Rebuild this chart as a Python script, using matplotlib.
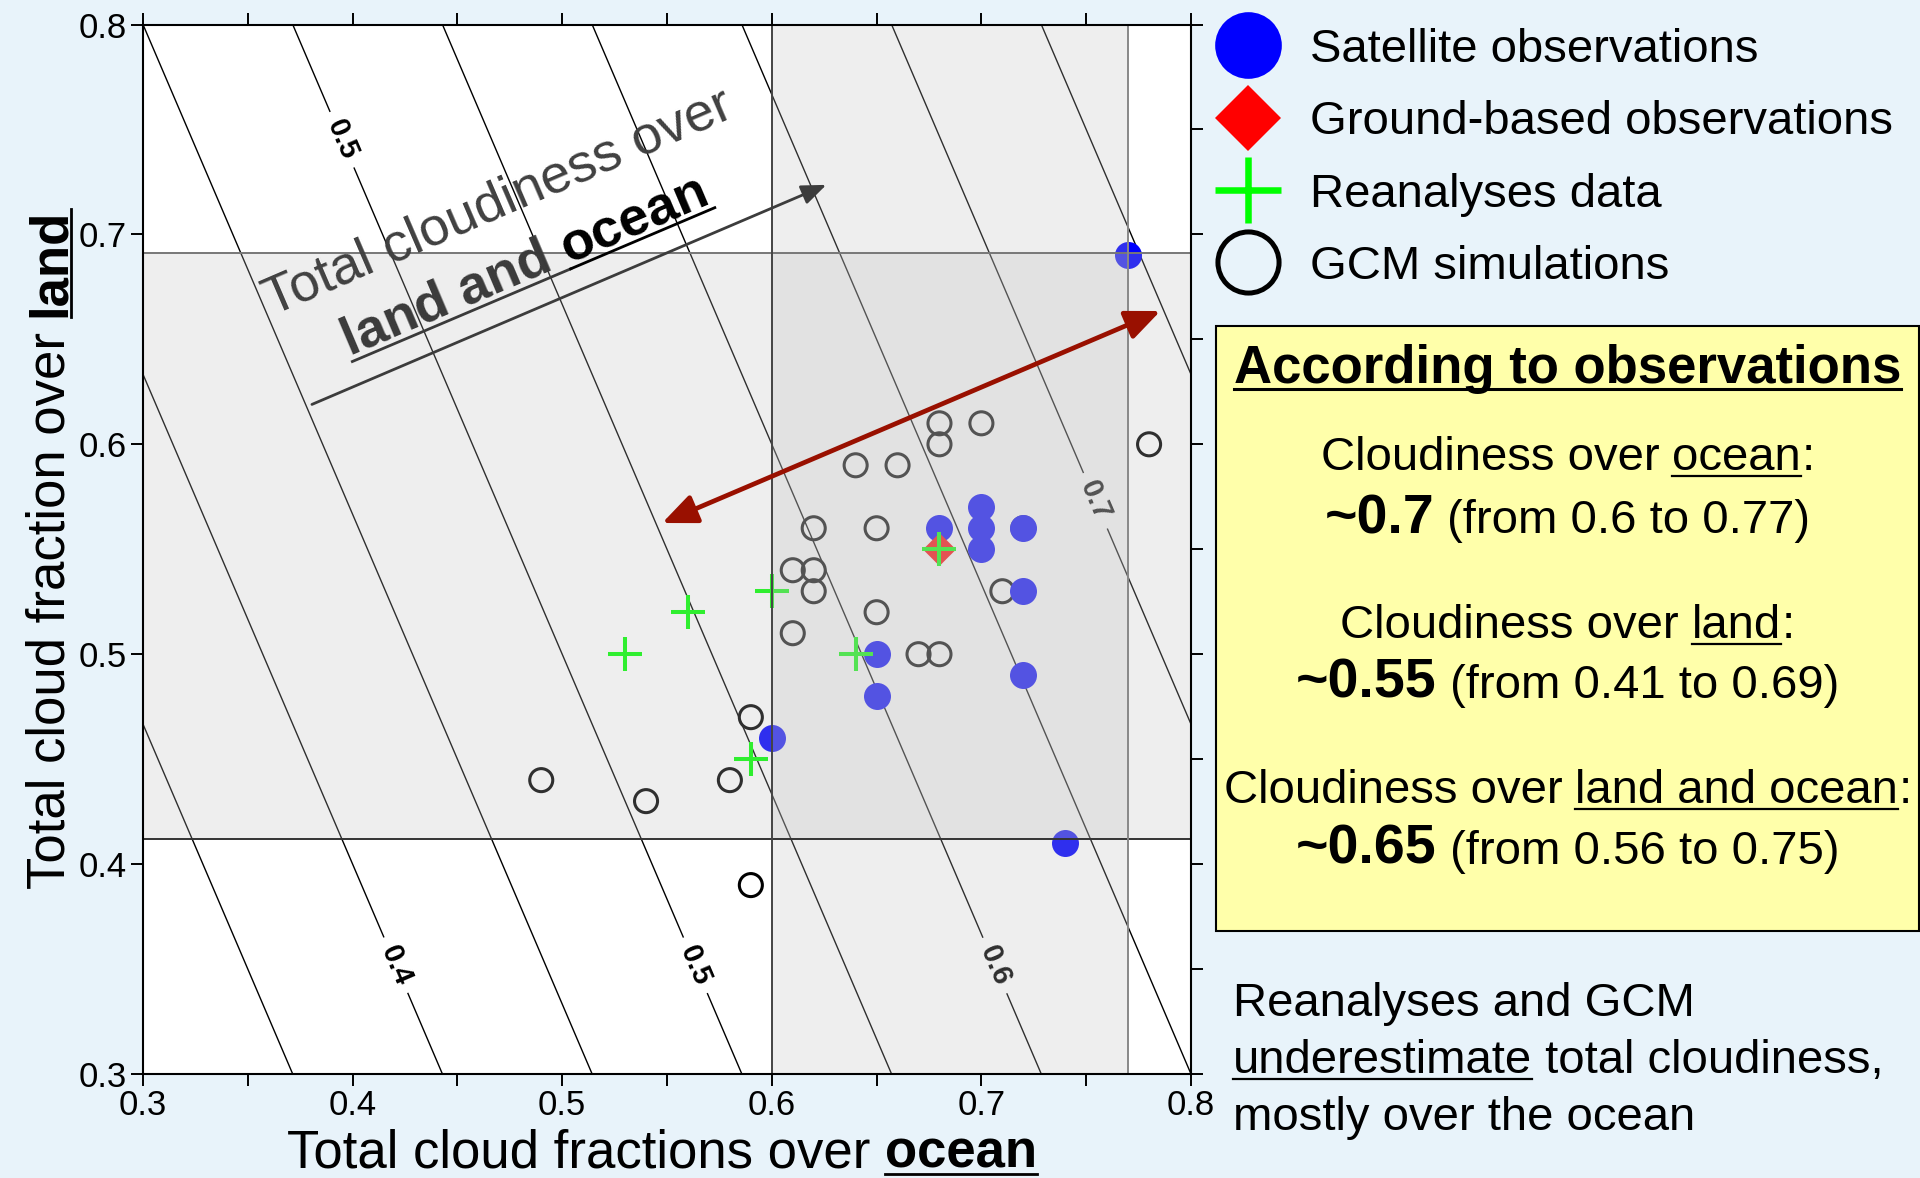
import matplotlib
matplotlib.use('Agg')
import matplotlib.pyplot as plt
import numpy as np
from matplotlib import font_manager
from matplotlib.lines import Line2D
from matplotlib.patches import Rectangle
from matplotlib.transforms import IdentityTransform

# cloud fractions: (ocean, land)
sat_ocean = [0.77, 0.74, 0.60, 0.65, 0.65, 0.68, 0.70, 0.70, 0.70, 0.72, 0.72, 0.72]
sat_land = [0.69, 0.41, 0.46, 0.50, 0.48, 0.56, 0.57, 0.56, 0.55, 0.56, 0.53, 0.49]
ground_ocean = [0.68]
ground_land = [0.55]
rean_ocean = [0.53, 0.56, 0.60, 0.64, 0.59, 0.68]
rean_land = [0.50, 0.52, 0.53, 0.50, 0.45, 0.55]
gcm_ocean = [0.68, 0.70, 0.68, 0.64, 0.66, 0.62, 0.65, 0.72, 0.61, 0.62, 0.62,
             0.71, 0.65, 0.61, 0.67, 0.68, 0.59, 0.58, 0.49, 0.54, 0.59, 0.78]
gcm_land = [0.61, 0.61, 0.60, 0.59, 0.59, 0.56, 0.56, 0.56, 0.54, 0.54, 0.53,
            0.53, 0.52, 0.51, 0.50, 0.50, 0.47, 0.44, 0.44, 0.43, 0.39, 0.60]

# observed ranges (shaded bands)
ocean_range = (0.60, 0.77)
land_range = (0.412, 0.691)

# total = w*ocean + (1-w)*land
ocean_weight = 0.7
plain_levels = [0.35, 0.45, 0.55, 0.65, 0.75]
labelled_levels = [0.4, 0.5, 0.6, 0.7]

ticks = [0.3, 0.4, 0.5, 0.6, 0.7, 0.8]
tick_labels = ['0.3', '0.4', '0.5', '0.6', '0.7', '0.8']
minor_ticks = [0.35, 0.45, 0.55, 0.65, 0.75]

legend_labels = ['Satellite observations', 'Ground-based observations',
                 'Reanalyses data', 'GCM simulations']

plt.rcParams['font.family'] = ['Liberation Sans', 'DejaVu Sans']
names = {f.name for f in font_manager.fontManager.ttflist}
if 'Liberation Sans Narrow' in names:
    tick_font, tick_size = 'Liberation Sans Narrow', 27
else:
    tick_font, tick_size = 'Liberation Sans', 25

W, H = 1920, 1178
fig = plt.figure(figsize=(W / 100, H / 100), dpi=100, facecolor='#E8F3FA')
ax = fig.add_axes([143 / W, 1 - 1074 / H, 1048 / W, 1049.5 / H])
ax.set_xlim(0.3, 0.8)
ax.set_ylim(0.3, 0.8)

# isolines of total cloudiness
g = np.linspace(0.3, 0.8, 201)
O, L = np.meshgrid(g, g)
T = ocean_weight * O + (1 - ocean_weight) * L
ax.contour(O, L, T, levels=plain_levels, colors='black', linewidths=1.0, zorder=1)
cs = ax.contour(O, L, T, levels=labelled_levels, colors='black', linewidths=1.0, zorder=1)
spots = [(0.4186, 0.351), (0.5617, 0.351), (0.7048, 0.351), (0.397, 0.746), (0.753, 0.5725)]
lbls = ax.clabel(cs, inline=True, fontsize=21, fmt='%.1f', manual=spots, inline_spacing=10)
for t in lbls:
    t.set_fontweight('bold')
    t.set_zorder(1.5)

ax.scatter(gcm_ocean, gcm_land, s=275, facecolors='none', edgecolors='black',
           linewidths=2.2, zorder=2)
ax.scatter(sat_ocean, sat_land, s=378, color='blue', lw=0, zorder=2.1)
ax.scatter(ground_ocean, ground_land, s=282, marker='D', color='red', lw=0, zorder=2.2)
ax.scatter(rean_ocean, rean_land, s=566, marker='+', color='#00FF00', linewidths=2.9,
           zorder=2.3)

# shaded observation ranges, laid over the points
ax.axhspan(*land_range, color='#BFBFBF', alpha=0.25, lw=0, zorder=4)
ax.axvspan(*ocean_range, color='#BFBFBF', alpha=0.25, lw=0, zorder=4)
ax.axhline(land_range[0], color='#333333', lw=1.4, zorder=5)
ax.axhline(land_range[1], color='#777777', lw=1.4, zorder=5)
ax.axvline(ocean_range[0], color='#444444', lw=1.4, zorder=5)
ax.axvline(ocean_range[1], color='#888888', lw=1.4, zorder=5)

ax.annotate('', xy=(0.626, 0.7236), xytext=(0.3806, 0.619), zorder=6,
            arrowprops=dict(arrowstyle='-|>,head_length=0.5,head_width=0.2',
                            color='#3c3c3c', lw=2, mutation_scale=30,
                            shrinkA=0, shrinkB=0))
ax.annotate('', xy=(0.7854, 0.6635), xytext=(0.5477, 0.5625), zorder=6,
            arrowprops=dict(arrowstyle='<|-|>,head_length=0.7,head_width=0.3',
                            color='#991000', lw=3.4, mutation_scale=30,
                            shrinkA=0, shrinkB=0))

ax.set_xticks(ticks)
ax.set_xticklabels(tick_labels, fontfamily=tick_font, fontsize=tick_size)
ax.set_yticks(ticks)
ax.set_yticklabels(tick_labels, fontfamily=tick_font, fontsize=tick_size)
ax.set_xticks(minor_ticks, minor=True)
ax.set_yticks(minor_ticks, minor=True)
ax.tick_params(which='both', direction='out', length=8.6, width=1.4, top=True,
               right=True)
ax.tick_params(axis='y', which='minor', left=False)
ax.tick_params(axis='x', pad=2)
ax.tick_params(axis='y', pad=3)
for sp in ax.spines.values():
    sp.set_linewidth(1.5)
    sp.set_zorder(6)

# legend
handles = [
    Line2D([], [], ls='none', marker='o', ms=48, color='blue', mew=0),
    Line2D([], [], ls='none', marker='D', ms=34, color='red', mew=0),
    Line2D([], [], ls='none', marker='+', ms=48, color='#00FF00', mew=4.7),
    Line2D([], [], ls='none', marker='o', ms=44, mfc='none', mec='black', mew=3.6),
]
fig.legend(handles, legend_labels, loc='upper left', bbox_to_anchor=(1220 / W, 1 - 28 / H),
           frameon=False, fontsize=34, handlelength=1.2, handletextpad=0.7,
           labelspacing=0.6, borderpad=0, borderaxespad=0)

# text written piece by piece (mixed weights, underlines)
rend = fig.canvas.get_renderer()


def width_of(s, size, bold):
    probe = fig.text(0, 0, '|' + s + '|', fontsize=size,
                     fontweight='bold' if bold else 'normal')
    w1 = probe.get_window_extent(rend).width
    probe.set_text('||')
    w2 = probe.get_window_extent(rend).width
    probe.remove()
    return w1 - w2


def write(x, y, parts, angle=0, centre=False, gap=6, ul_lw=1.6):
    """parts: (text, size, bold, underline, colour); x, y in pixels from top-left."""
    a = np.radians(angle)
    d = np.array([np.cos(a), np.sin(a)])
    n = np.array([np.sin(a), -np.cos(a)])
    widths = [width_of(s, size, b) for s, size, b, u, c in parts]
    p = np.array([x, H - y], float)
    if centre:
        p -= d * sum(widths) / 2
    for (s, size, b, u, c), w in zip(parts, widths):
        fig.text(p[0], p[1], s, transform=IdentityTransform(), fontsize=size,
                 fontweight='bold' if b else 'normal', color=c, rotation=angle,
                 rotation_mode='anchor', ha='left', va='baseline')
        if u:
            q0 = p + n * gap
            q1 = q0 + d * w
            fig.add_artist(Line2D([q0[0], q1[0]], [q0[1], q1[1]],
                                  transform=IdentityTransform(), color=c, lw=ul_lw))
        p = p + d * w


K = 'black'
write(662, 1168, [('Total cloud fractions over ', 38, False, False, K),
                  ('ocean', 38, True, True, K)], centre=True, gap=6, ul_lw=2)
write(65, 549, [('Total cloud fraction over ', 38, False, False, K),
                ('land', 38, True, True, K)], angle=90, centre=True, gap=6, ul_lw=2)

write(272, 316, [('Total cloudiness over', 39, False, False, '#404040')], angle=23.3)
write(350, 356, [('land and ', 39, True, True, '#3a3a3a'),
                 ('ocean', 39, True, True, K)], angle=23, gap=6, ul_lw=2)

fig.add_artist(Rectangle((1216 / W, 1 - 931 / H), 703 / W, 605 / H,
                         transform=fig.transFigure, facecolor='#FFFFAA',
                         edgecolor='black', lw=1.5))
cx = 1567.5
write(cx, 383, [('According to observations', 38, True, True, K)], centre=True,
      gap=6, ul_lw=2.2)
write(cx, 470, [('Cloudiness over ', 34, False, False, K), ('ocean', 34, False, True, K),
                (':', 34, False, False, K)], centre=True)
write(cx, 533, [('~0.7', 40, True, False, K), (' (from 0.6 to 0.77)', 34, False, False, K)],
      centre=True)
write(cx, 638, [('Cloudiness over ', 34, False, False, K), ('land', 34, False, True, K),
                (':', 34, False, False, K)], centre=True)
write(cx, 698, [('~0.55', 40, True, False, K), (' (from 0.41 to 0.69)', 34, False, False, K)],
      centre=True)
write(cx, 803, [('Cloudiness over ', 34, False, False, K),
                ('land and ocean', 34, False, True, K), (':', 34, False, False, K)],
      centre=True)
write(cx, 864, [('~0.65', 40, True, False, K), (' (from 0.56 to 0.75)', 34, False, False, K)],
      centre=True)

write(1233, 1016, [('Reanalyses and GCM', 34, False, False, K)])
write(1233, 1073, [('underestimate', 34, False, True, K),
                   (' total cloudiness,', 34, False, False, K)])
write(1233, 1130, [('mostly over the ocean', 34, False, False, K)])

fig.savefig('out.png', dpi=100, facecolor=fig.get_facecolor())
